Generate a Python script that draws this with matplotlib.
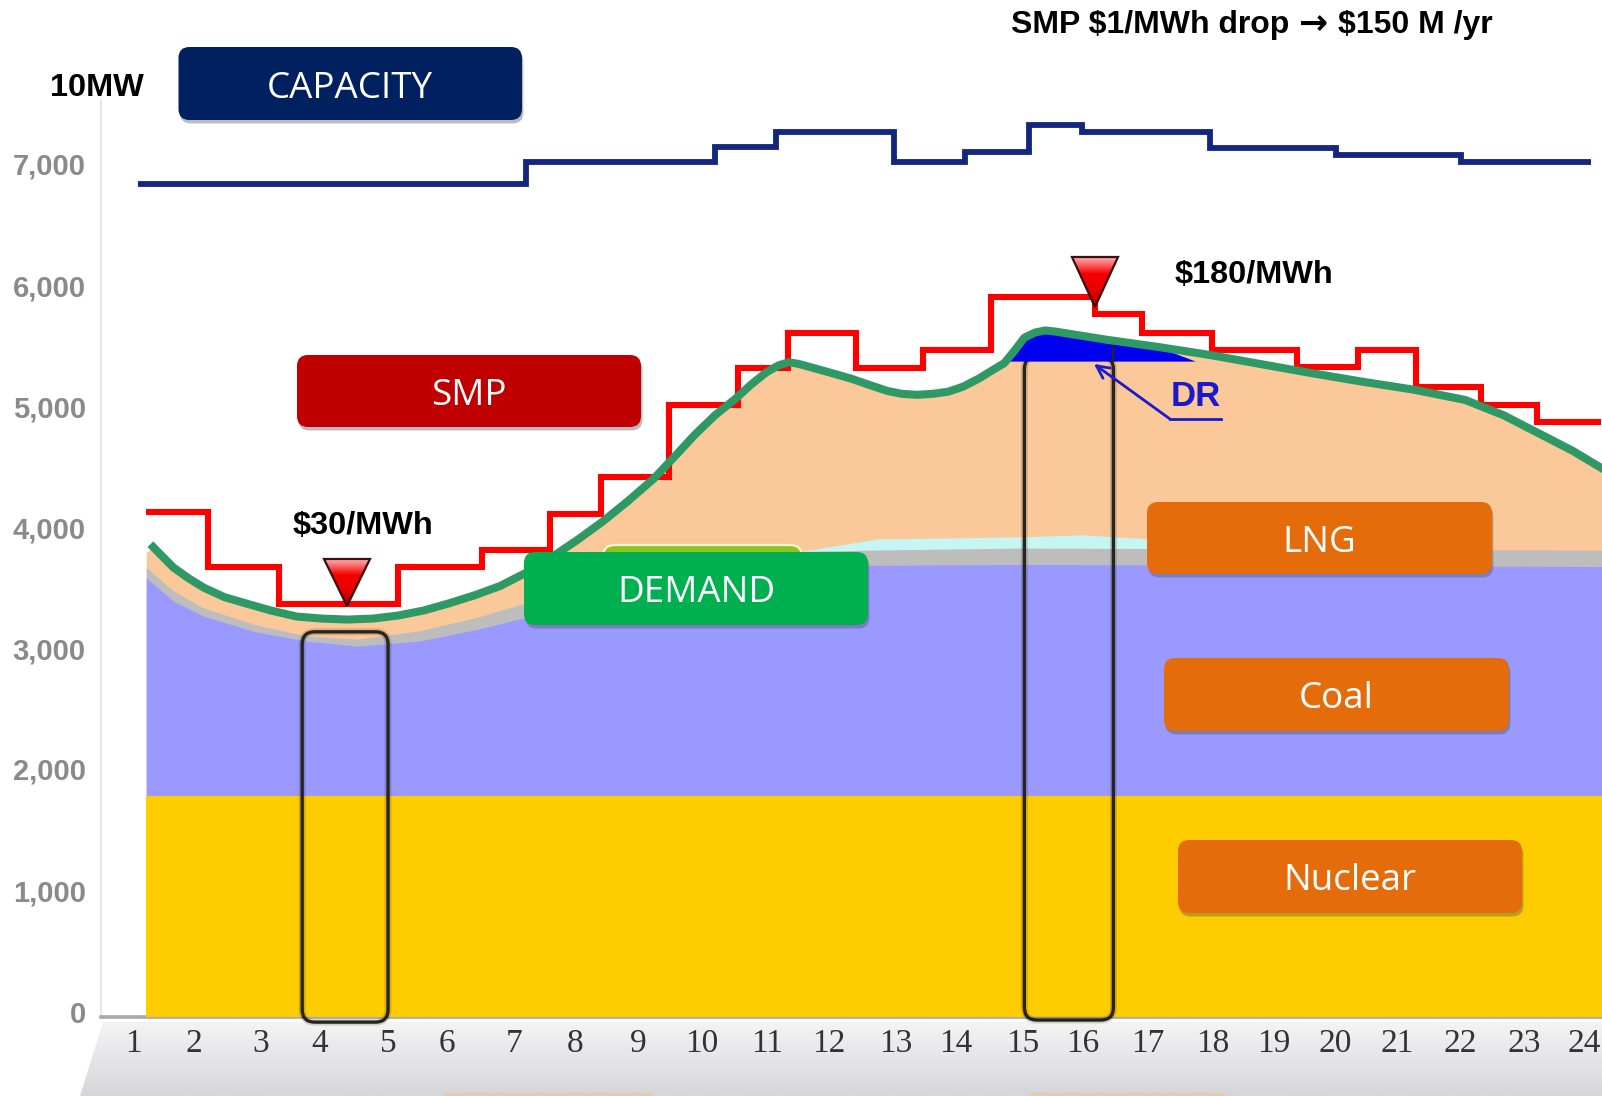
import matplotlib
matplotlib.use("Agg")
import matplotlib.pyplot as plt
import matplotlib.patheffects as pe
from matplotlib.colors import LinearSegmentedColormap
from matplotlib.patches import FancyBboxPatch, Polygon
import numpy as np

W, H = 1602, 1096

# hour axis
tick_labels = [str(i) for i in range(1, 25)]
tick_pos = [1.0, 1.97, 3.02, 3.96, 5.04, 5.98, 7.03, 8.0, 9.0, 10.01, 11.05, 12.02,
            13.09, 14.04, 15.09, 16.05, 17.07, 18.1, 19.07, 20.04, 21.03, 22.02, 23.04, 23.98]
y_labels = ["0", "1,000", "2,000", "3,000", "4,000", "5,000", "6,000", "7,000"]
y_pos = [42, 1042, 2041, 3033, 4024, 5023, 6015, 7014]

# step series, edges are in hours
smp_edges = [1.21, 2.19, 3.31, 5.20, 6.53, 7.60, 8.41, 9.49, 10.58, 11.37, 12.46, 13.51,
             14.59, 16.24, 16.98, 18.10, 19.44, 20.41, 21.32, 22.35, 23.24, 24.26]
smp_vals = [4150, 3696, 3394, 3696, 3840, 4140, 4444, 5032, 5334, 5628, 5334, 5485,
            5922, 5779, 5628, 5485, 5342, 5485, 5183, 5032, 4889]
cap_edges = [1.08, 7.23, 10.22, 11.19, 13.05, 14.18, 15.20, 16.04, 18.06, 20.06, 22.03, 24.10]
cap_vals = [6846, 7031, 7157, 7274, 7031, 7115, 7333, 7274, 7148, 7090, 7031]

# demand curve
dem_h = [1.32, 1.48, 1.64, 1.89, 2.13, 2.45, 2.78, 3.18, 3.59, 3.99, 4.40, 4.80, 5.20, 5.61,
         6.01, 6.42, 6.82, 7.23, 7.63, 8.04, 8.44, 8.84, 9.25, 9.57, 9.90, 10.22, 10.54,
         10.79, 11.03, 11.23, 11.39, 11.56, 11.97, 12.37, 12.65, 12.94, 13.18, 13.42, 13.67,
         13.91, 14.15, 14.40, 14.61, 14.80, 14.96, 15.12, 15.29, 15.45, 15.61, 16.42, 17.23,
         18.04, 18.85, 19.66, 20.46, 21.29, 22.10, 22.71, 23.31, 23.81, 24.27]
dem_v = [3864, 3780, 3696, 3604, 3528, 3452, 3402, 3343, 3293, 3276, 3268, 3276, 3301, 3343,
         3402, 3469, 3545, 3654, 3780, 3923, 4074, 4242, 4427, 4603, 4788, 4948, 5082,
         5200, 5300, 5359, 5384, 5368, 5309, 5250, 5200, 5149, 5124, 5116, 5124,
         5141, 5183, 5250, 5317, 5376, 5477, 5586, 5628, 5645, 5636, 5569, 5510,
         5445, 5370, 5295, 5225, 5158, 5074, 4948, 4788, 4654, 4511]

# stacked generation layers
nuclear_top = 1817
layer_h = [1.21, 1.64, 2.13, 2.94, 3.75, 4.56, 5.53, 6.50, 7.47, 8.60, 10.22, 12.65, 15.08, 24.27]
coal_top = [3612, 3419, 3293, 3167, 3091, 3049, 3091, 3192, 3318, 3654, 3713, 3713, 3721, 3704]
gray_top = [3696, 3503, 3360, 3226, 3133, 3108, 3175, 3293, 3444, 3780, 3814, 3839, 3856, 3839]
cyan_h = [11.6, 12.8, 15.08, 16.04, 17.1]
cyan_top = [3830, 3931, 3948, 3965, 3931]
dr_h = [14.85, 14.96, 15.12, 15.29, 15.45, 15.61, 16.42, 17.23, 17.83]
dr_top = [5393, 5477, 5586, 5628, 5645, 5636, 5569, 5510, 5393]
dr_base = 5393


def gradient(ax, patch, colors, x0, x1, y0, y1):
    cmap = LinearSegmentedColormap.from_list("g", colors)
    im = ax.imshow(np.linspace(0, 1, 64)[:, None], extent=(x0, x1, y1, y0), aspect="auto",
                   cmap=cmap, zorder=patch.get_zorder())
    ax.add_patch(patch)
    patch.set_visible(False)
    im.set_clip_path(patch)


def px_axes(z):
    a = fig.add_axes([0, 0, 1, 1], zorder=z)
    a.set_axis_off()
    a.patch.set_alpha(0)
    a.set_xlim(0, W)
    a.set_ylim(H, 0)
    return a


def label_box(ax, x0, y0, x1, y1, color, text):
    box = FancyBboxPatch((x0 + 11, y0 + 11), x1 - x0 - 22, y1 - y0 - 22,
                         boxstyle="round,pad=11,rounding_size=11", fc=color, ec="none", zorder=6,
                         path_effects=[pe.SimplePatchShadow(offset=(1, -2.5), shadow_rgbFace="#555555", alpha=0.4),
                                       pe.Normal()])
    ax.add_patch(box)
    ax.text((x0 + x1) / 2, (y0 + y1) / 2 + 5, text, color="white", fontsize=26.5, ha="center", va="center",
            family=["Liberation Sans Narrow", "Open Sans"], zorder=7)


def marker(ax, cx, top, tip, half):
    tri = Polygon([(cx - half, top), (cx + half, top), (cx, tip)], closed=True, zorder=8)
    gradient(ax, tri, ["#ffb0b0", "#f50000", "#e80000", "#a80000"], cx - half, cx + half, top, tip)
    ax.add_patch(Polygon([(cx - half, top), (cx + half, top), (cx, tip)], closed=True,
                         fc="none", ec="#3a1010", lw=1.6, zorder=8))


fig = plt.figure(figsize=(W / 100, H / 100), dpi=100, facecolor="white")

# bottom band behind the tick labels
bg = px_axes(0)
band = Polygon([(103, 1022), (W, 1022), (W, H), (80, H)], closed=True, zorder=1)
gradient(bg, band, ["#f4f4f5", "#d6d6d9"], 80, W, 1022, H)
bg.fill_between([444, 653], 1093, H, color="#f3c48c", alpha=0.6, lw=0, zorder=2)
bg.fill_between([1030, 1225], 1093, H, color="#f3c48c", alpha=0.6, lw=0, zorder=2)
bg.set_xlim(0, W)
bg.set_ylim(H, 0)

# main chart
ax = fig.add_axes([101 / W, 1 - 1017 / H, (W - 101) / W, (1017 - 100) / H], zorder=1)
ax.patch.set_alpha(0)
ax.set_xlim(0.493, 24.27)
ax.set_ylim(0, 7540)

peach_h = [1.21] + dem_h
peach_v = [3822] + dem_v
ax.fill_between(peach_h, 0, peach_v, color="#fbc899", lw=0, zorder=1)
ax.fill_between(cyan_h, 0, cyan_top, color="#c6f6f3", lw=0, zorder=1.5)
ax.fill_between(layer_h, 0, gray_top, color="#bdbdbd", lw=0, zorder=2)
ax.fill_between(layer_h, 0, coal_top, color="#9999ff", lw=0, zorder=2.5)
ax.fill_between([layer_h[0], layer_h[-1]], 0, nuclear_top, color="#ffcc00", lw=0, zorder=3)

# highlighted hours
ratio = 63.13 / 0.1216
for h0, h1, v0, v1 in [(3.68, 5.04, -42, 3167), (15.12, 16.53, -25, 5430)]:
    ax.add_patch(FancyBboxPatch((h0 + 0.2, v0 + 0.2 * ratio), h1 - h0 - 0.4, v1 - v0 - 0.4 * ratio,
                                boxstyle="round,pad=0.2,rounding_size=0.2", mutation_aspect=ratio,
                                fc="none", ec="#26241c", lw=2.4, zorder=4, clip_on=False,
                                path_effects=[pe.Stroke(linewidth=5, foreground="#000000", alpha=0.15),
                                              pe.Normal()]))

ax.stairs(cap_vals, cap_edges, baseline=None, color="#14277f", lw=4.2, zorder=5)
ax.stairs(smp_vals, smp_edges, baseline=None, color="#ff0000", lw=4.4, zorder=5)
ax.fill_between(dr_h, dr_base, dr_top, color="#0000f0", lw=0, zorder=5.5)
ax.plot([16.53, 16.53], [dr_base, 5560], color="#26241c", lw=1.6, zorder=5.6)
ax.plot(dem_h, dem_v, color="#2f9966", lw=5.8, solid_joinstyle="round", zorder=6)

ax.set_xticks(tick_pos, tick_labels, family="Liberation Serif", fontsize=24, color="#333333")
ax.set_yticks(y_pos, y_labels, family="Liberation Sans", fontweight="bold", fontsize=21, color="#8a8a8a")
ax.tick_params(axis="x", length=0, pad=8)
ax.tick_params(axis="y", length=0, pad=11)
for s in ["top", "right"]:
    ax.spines[s].set_visible(False)
ax.spines["left"].set_color("#e2e2e2")
ax.spines["left"].set_linewidth(1.2)
ax.spines["bottom"].set_color("#a9a9a9")
ax.spines["bottom"].set_linewidth(2.6)

# call-outs on top, in pixel coordinates
top = px_axes(2)
lime = FancyBboxPatch((615, 557), 175, 50, boxstyle="round,pad=12,rounding_size=12",
                      fc="#8cc31e", ec="#f4f4d8", lw=1.6, zorder=5)
top.add_patch(lime)
label_box(top, 178.5, 47, 522, 120, "#002060", "CAPACITY")
label_box(top, 297, 355, 641, 427, "#c00000", "SMP")
label_box(top, 524, 552, 868, 625, "#00b050", "DEMAND")
label_box(top, 1147, 502, 1492, 574, "#e46c0a", "LNG")
label_box(top, 1164, 658, 1509, 731, "#e46c0a", "Coal")
label_box(top, 1178, 840, 1522, 913, "#e46c0a", "Nuclear")

bold = dict(family="Liberation Sans", fontweight="bold", color="black", va="center", zorder=9)
top.text(97, 88, "10MW", fontsize=23.4, ha="center", **bold)
top.text(363, 526, "\\$30/MWh", fontsize=23.4, ha="center", **bold)
top.text(1254, 275, "\\$180/MWh", fontsize=23.4, ha="center", **bold)
top.text(1289, 25, "SMP \\$1/MWh drop", fontsize=23, ha="right", **bold)
top.text(1313, 24, "\u2192", fontsize=25, color="black", fontweight="bold", family="DejaVu Sans",
         ha="center", va="center", zorder=9)
top.text(1338, 25, "\\$150 M /yr", fontsize=23, ha="left", **bold)

marker(top, 347, 559, 606, 23)
marker(top, 1095, 257, 307, 23)

top.text(1196, 397, "DR", color="#1a1acc", fontsize=25, fontweight="bold", ha="center", va="center",
         family=["Liberation Sans Narrow", "Liberation Sans"], zorder=9)
top.plot([1221, 1170], [419, 419], color="#1a1acc", lw=2, zorder=9)
top.annotate("", xy=(1094, 364), xytext=(1170, 419), zorder=9,
             arrowprops=dict(arrowstyle="->,head_length=0.9,head_width=0.45", color="#1a1acc", lw=2,
                             shrinkA=0, shrinkB=0))

fig.savefig("out.png", dpi=100)
